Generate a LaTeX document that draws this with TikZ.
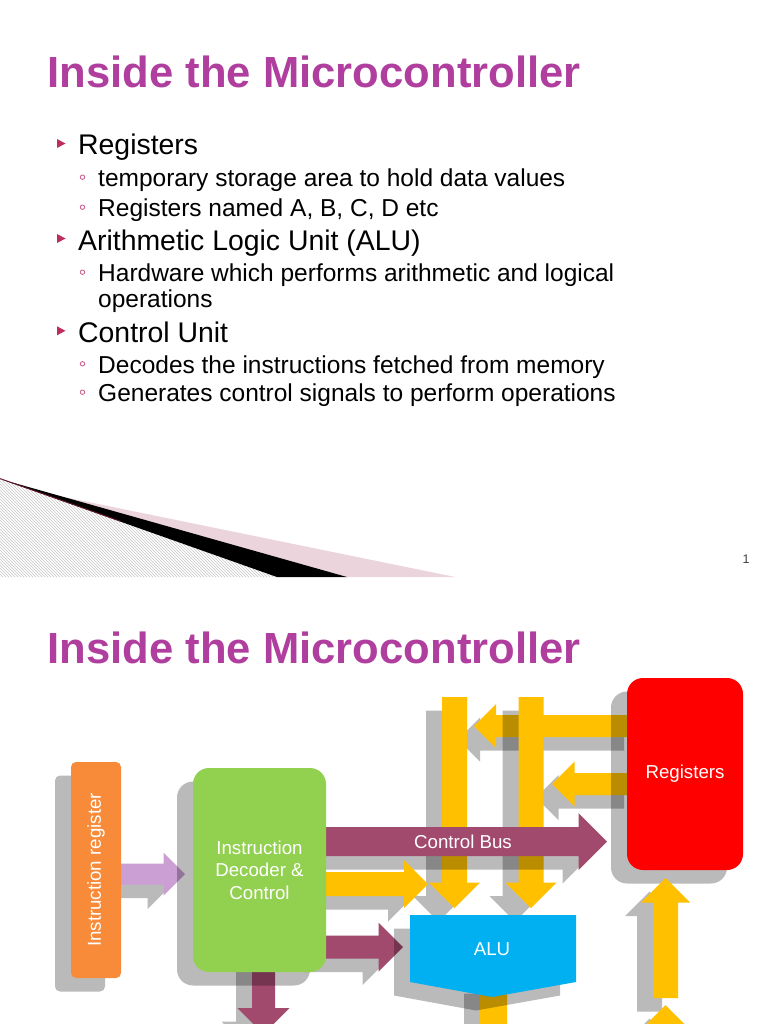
\documentclass[tikz,border=0pt]{standalone}
\usepackage{fontspec}
\setmainfont{Liberation Sans}
\usetikzlibrary{shadows, patterns, positioning}
\definecolor{mtitle}{RGB}{176,62,158}
\definecolor{mbul}{RGB}{190,45,95}
\definecolor{mdot}{RGB}{205,100,145}
\definecolor{mpink}{RGB}{236,212,221}
\definecolor{mdred}{RGB}{110,20,40}
\definecolor{morange}{RGB}{247,139,58}
\definecolor{mgreen}{RGB}{146,208,80}
\definecolor{mlav}{RGB}{203,158,212}
\definecolor{mplum}{RGB}{161,74,110}
\definecolor{myellow}{RGB}{255,192,0}
\definecolor{malu}{RGB}{0,176,240}
\definecolor{mred}{RGB}{255,0,0}

% block arrows: [style]{tail}{tip}{centre}{body half}{head half}
\newcommand{\harrow}[6][]{%
  \pgfmathsetmacro\hbase{#3-(#3>#2 ? 1 : -1)*#6}%
  \fill[#1] (#2,#4-#5) -- (\hbase,#4-#5) -- (\hbase,#4-#6) -- (#3,#4)
    -- (\hbase,#4+#6) -- (\hbase,#4+#5) -- (#2,#4+#5) -- cycle;}
\newcommand{\varrow}[6][]{%
  \pgfmathsetmacro\vbase{#4-(#4>#3 ? 1 : -1)*#6}%
  \fill[#1] (#2-#5,#3) -- (#2-#5,\vbase) -- (#2-#6,\vbase) -- (#2,#4)
    -- (#2+#6,\vbase) -- (#2+#5,\vbase) -- (#2+#5,#3) -- cycle;}

\begin{document}
\begin{tikzpicture}[x=1pt,y=-1pt,
  ttl/.style={font=\fontsize{43.6}{48}\selectfont\bfseries,text=mtitle,anchor=base west,inner sep=0pt},
  tone/.style={font=\fontsize{28.4}{32}\selectfont,anchor=base west,inner sep=0pt},
  ttwo/.style={font=\fontsize{24.5}{28}\selectfont,anchor=base west,inner sep=0pt},
  shad/.style={drop shadow={shadow xshift=-16pt,shadow yshift=-13.5pt,opacity=.27,fill=black}},
  yarr/.style={fill=myellow,shad},
  parr/.style={fill=mplum,shad},
  lbl/.style={text=white,font=\fontsize{18.7}{22.5}\selectfont,inner sep=0pt},
  blk/.style={lbl,shad,align=center}
]
\useasboundingbox (0,0) rectangle (768,1024);
\clip (0,0) rectangle (768,1024);
\fill[white] (0,0) rectangle (768,1024);

% ── Slide 1 ─────────────────────────────────────────────
\node[ttl] (ttl1) at (47.5,88) {Inside the Microcontroller};

\node[tone] (regh)  at (78,155)   {Registers};
\node[ttwo] (regs1) at (98,186.7) {temporary storage area to hold data values};
\node[ttwo] (regs2) at (98,216.7) {Registers named A, B, C, D etc};
\node[tone] (aluh)  at (78,250)   {Arithmetic Logic Unit (ALU)};
\node[ttwo] (alus1) at (98,281.7) {Hardware which performs arithmetic and logical};
\node[ttwo] (alus2) at (98,307.5) {operations};
\node[tone] (cuh)   at (78,342.3) {Control Unit};
\node[ttwo] (cus1)  at (98,373.3) {Decodes the instructions fetched from memory};
\node[ttwo] (cus2)  at (98,401.7) {Generates control signals to perform operations};

\fill[mbul] (57,139) -- (65.5,143.5) -- (57,148) -- cycle;
\fill[mbul] (57,234) -- (65.5,238.5) -- (57,243) -- cycle;
\fill[mbul] (57,326.3) -- (65.5,330.8) -- (57,335.3) -- cycle;
\draw[mdot,line width=0.9pt] (82.5,177.2) circle (2.2);
\draw[mdot,line width=0.9pt] (82.5,207.2) circle (2.2);
\draw[mdot,line width=0.9pt] (82.5,272.2) circle (2.2);
\draw[mdot,line width=0.9pt] (82.5,363.8) circle (2.2);
\draw[mdot,line width=0.9pt] (82.5,392.2) circle (2.2);

% swoosh
\fill[mpink] (53,494.8) -- (455,577) -- (347,577) -- cycle;
\fill[pattern=north west lines,pattern color=gray!45] (0,479) -- (277,577) -- (0,577) -- cycle;
\fill[black] (0,479) -- (347,577) -- (277,577) -- cycle;
\draw[mdred,line width=0.8pt] (0,478.5) -- (120,521);
\node[font=\fontsize{12.5}{14}\selectfont,text=black!75,anchor=base,inner sep=0pt] (pnum) at (746,563) {1};

% ── Slide 2 ─────────────────────────────────────────────
\node[ttl] (ttl2) at (47.5,663.3) {Inside the Microcontroller};

% arrows
\harrow[yarr]{640}{474}{726}{11}{22}
\harrow[yarr]{640}{552}{784}{11}{22.5}
\varrow[yarr]{454.5}{697}{908}{12.5}{25.5}
\varrow[yarr]{531}{697}{908}{12.5}{25.5}
\harrow[parr]{320}{607}{841.5}{14.5}{28.5}
\node[lbl] (cbus) at (463,842) {Control Bus};
\harrow[yarr]{320}{428}{884}{12}{24}
\harrow[parr]{320}{403}{947}{11.5}{24.5}
\harrow[fill=mlav,shad]{115}{185}{874}{10.5}{21.5}
\varrow[parr]{263.5}{950}{1034}{11.5}{26}
\varrow[yarr]{493.5}{980}{1080}{13.5}{27}

% blocks
\node[blk,fill=morange,rounded corners=5pt,minimum width=50pt,minimum height=216pt]
  (ireg) at (96,870) {\rotatebox{90}{Instruction register}};
\node[blk,fill=mgreen,rounded corners=16pt,minimum width=133pt,minimum height=204pt]
  (dec) at (259.5,870) {Instruction\\Decoder \&\\Control};
\fill[malu,shad] (410,915) -- (576,915) -- (576,982) -- (492,997) -- (410,982) -- cycle;
\node[lbl] (alu) at (492,949) {ALU};
\node[blk,fill=mred,rounded corners=16pt,minimum width=116pt,minimum height=192pt]
  (regs) at (685,774) {Registers};

% arrows into the registers
\varrow[yarr]{665.5}{998}{878}{12.5}{24.5}
\varrow[yarr]{665.5}{1100}{1005}{12.5}{24.5}

\end{tikzpicture}
\end{document}
